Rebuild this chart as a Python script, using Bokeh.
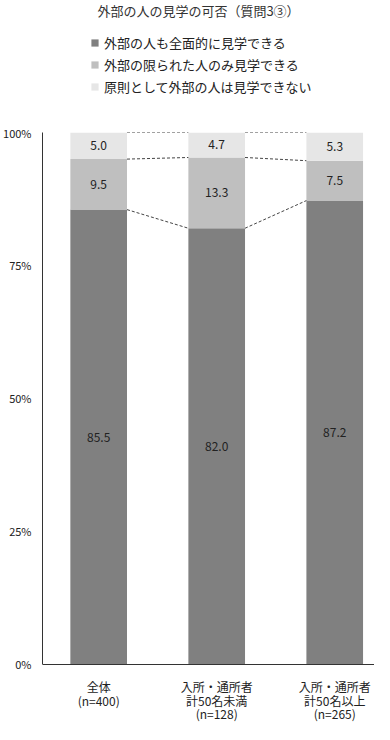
from bokeh.plotting import figure
from bokeh.models import Range1d, Legend, LegendItem, FixedTicker, ColumnDataSource, Label
from bokeh.layouts import column
from bokeh.core.properties import value
from bokeh.embed import file_html
from bokeh.resources import INLINE

title_text = "外部の人の見学の可否（質問3③）"
groups = ["全体\n(n=400)", "入所・通所者\n計50名未満\n(n=128)", "入所・通所者\n計50名以上\n(n=265)"]
series_names = ["外部の人も全面的に見学できる", "外部の限られた人のみ見学できる", "原則として外部の人は見学できない"]
full_access = [85.5, 82.0, 87.2]
limited_access = [9.5, 13.3, 7.5]
no_access = [5.0, 4.7, 5.3]
y_ticks = [0, 25, 50, 75, 100]
colors = ["#808080", "#bfbfbf", "#e6e6e6"]
FONT = "Noto Sans CJK JP"

W = 374
HEADER_H = 117

# ---------- header: title + legend ----------
hd = figure(width=W, height=HEADER_H, output_backend="svg", toolbar_location=None,
            x_range=Range1d(0, 1), y_range=Range1d(0, 1),
            x_axis_location=None, y_axis_location=None,
            min_border_left=0, min_border_right=0, min_border_top=0, min_border_bottom=0)
hd.grid.visible = False
hd.outline_line_color = None

# legend proxies (kept outside the visible range of the header)
swatches = [hd.rect(x=[-5], y=[-5], width=1, height=1, fill_color=c, line_color=None) for c in colors]
hd.add_layout(Label(x=156, y=HEADER_H - 10, x_units="screen", y_units="screen", text=title_text,
                    text_align="center", text_baseline="middle", text_font=FONT,
                    text_font_size="13px", text_color="#333333"))
legend = Legend(items=[LegendItem(label=n, renderers=[r]) for n, r in zip(series_names, swatches)],
                location=(48, 21), orientation="vertical",
                glyph_width=9, glyph_height=9, label_standoff=5, spacing=3, label_height=16,
                padding=0, margin=0, border_line_color=None, background_fill_alpha=0,
                label_text_font=FONT, label_text_font_size="13px", label_text_color="#222222")
hd.add_layout(legend, "center")

# ---------- main chart ----------
xs = list(range(len(groups)))
bar_w = 0.48
src = ColumnDataSource(dict(x=xs, a=full_access, b=limited_access, c=no_access))

p = figure(width=W, height=724 - HEADER_H, output_backend="svg", toolbar_location=None,
           x_range=Range1d(-0.476, 2.337), y_range=Range1d(-11.3, 100),
           min_border_left=40, min_border_right=0, min_border_top=15, min_border_bottom=0)
p.outline_line_color = None
p.grid.visible = False

p.vbar_stack(["a", "b", "c"], x="x", width=bar_w, color=colors, line_color=None, source=src)

cum1 = full_access
cum2 = [a + b for a, b in zip(full_access, limited_access)]
cum3 = [a + b + c for a, b, c in zip(full_access, limited_access, no_access)]
for cum in (cum1, cum2, cum3):
    x0 = [xs[i] + bar_w / 2 for i in range(len(xs) - 1)]
    x1 = [xs[i + 1] - bar_w / 2 for i in range(len(xs) - 1)]
    p.segment(x0=x0, y0=cum[:-1], x1=x1, y1=cum[1:], line_color="#444444",
              line_dash="3 2", line_width=1)

for lo, vals in (([0] * 3, full_access), (cum1, limited_access), (cum2, no_access)):
    ys = [l + v / 2 for l, v in zip(lo, vals)]
    p.text(x=xs, y=ys, text=[f"{v:.1f}" for v in vals], text_align="center",
           text_baseline="middle", text_font=value(FONT), text_font_size="12px",
           text_color="#222222")

p.yaxis.ticker = FixedTicker(ticks=y_ticks)
p.yaxis.bounds = (0, 100)
p.yaxis.major_label_overrides = {t: f"{t}%" for t in y_ticks}
p.yaxis.major_tick_out = 0
p.yaxis.major_tick_in = 0
p.yaxis.minor_tick_out = 0
p.yaxis.minor_tick_in = 0
p.yaxis.major_label_standoff = 11
p.yaxis.axis_line_color = "#333333"
p.yaxis.major_label_text_font = FONT
p.yaxis.major_label_text_font_size = "11px"
p.yaxis.major_label_text_color = "#222222"

p.xaxis.fixed_location = 0
p.xaxis.ticker = FixedTicker(ticks=xs)
p.xaxis.major_label_overrides = {i: g for i, g in enumerate(groups)}
p.xaxis.major_tick_out = 0
p.xaxis.major_tick_in = 0
p.xaxis.minor_tick_out = 0
p.xaxis.minor_tick_in = 0
p.xaxis.major_label_standoff = 14
p.xaxis.axis_line_color = "#333333"
p.xaxis.major_label_text_font = FONT
p.xaxis.major_label_text_font_size = "12px"
p.xaxis.major_label_text_line_height = 0.78
p.xaxis.major_label_text_color = "#222222"

layout = column(hd, p, spacing=0)
open("out.html", "w").write(file_html(layout, INLINE))
